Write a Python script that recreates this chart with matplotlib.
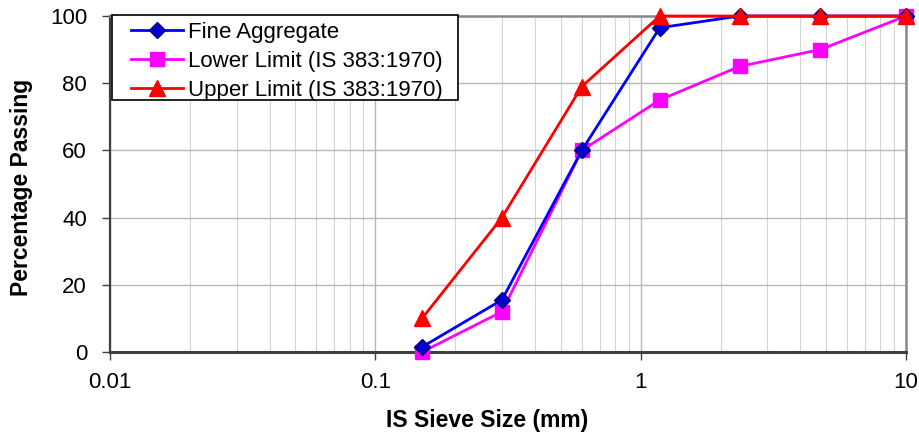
import matplotlib
matplotlib.use("Agg")
import matplotlib.pyplot as plt
from matplotlib.patches import Rectangle
from matplotlib.ticker import LogLocator, NullFormatter, FixedLocator

plt.rcParams['font.family'] = ['Liberation Sans', 'DejaVu Sans']

sieve = [0.15, 0.3, 0.6, 1.18, 2.36, 4.75, 10]
fine = [1.5, 15.5, 60, 96.5, 100, 100, 100]
lower = [0, 12, 60, 75, 85, 90, 100]
upper = [10, 40, 79, 100, 100, 100, 100]
xticks = [0.01, 0.1, 1, 10]
xticklabels = ['0.01', '0.1', '1', '10']
yticks = [0, 20, 40, 60, 80, 100]

W, H = 919, 434
fig = plt.figure(figsize=(W/100, H/100), dpi=100)
ax = fig.add_axes([110/W, 1-352/H, (906-110)/W, (352-16)/H])

ax.plot(sieve, fine, color='#0000FF', marker='D', markersize=8, markerfacecolor='#0000CC',
        markeredgecolor='#000080', lw=2, label='Fine Aggregate', zorder=4)
ax.plot(sieve, lower, color='#FF00FF', marker='s', markersize=10.5, lw=2,
        label='Lower Limit (IS 383:1970)', zorder=3)
ax.plot(sieve, upper, color='#FF0000', marker='^', markersize=11, lw=2,
        label='Upper Limit (IS 383:1970)', zorder=5)

ax.set_xscale('log')
ax.set_xlim(0.01, 10)
ax.set_ylim(0, 100)
ax.xaxis.set_major_locator(FixedLocator(xticks))
ax.set_xticklabels(xticklabels)
ax.xaxis.set_minor_locator(LogLocator(base=10, subs=range(2, 10)))
ax.xaxis.set_minor_formatter(NullFormatter())
ax.set_yticks(yticks)

ax.grid(True, which='major', axis='both', color='#B8B8B8', lw=1)
ax.grid(True, which='minor', axis='x', color='#D4D4D4', lw=0.8)
ax.set_axisbelow(True)

ax.tick_params(axis='both', which='major', labelsize=16, direction='out', length=5.5,
               width=1, color='#404040')
ax.tick_params(axis='y', pad=11)
ax.tick_params(axis='x', pad=9)
ax.tick_params(axis='x', which='minor', length=0)

for s in ['top', 'right']:
    ax.spines[s].set_color('#888888')
    ax.spines[s].set_linewidth(1.8)
ax.spines['left'].set_color('#404040')
ax.spines['left'].set_linewidth(1.6)
ax.spines['bottom'].set_color('#404040')
ax.spines['bottom'].set_linewidth(2.2)

ax.set_xlabel('IS Sieve Size (mm)', fontsize=16.5, fontweight='bold')
ax.set_ylabel('Percentage Passing', fontsize=16.5, fontweight='bold')
ax.xaxis.set_label_coords((487-110)/796, (352-420)/336)
ax.xaxis.label.set_va('center')
ax.yaxis.set_label_coords((22-110)/796, (352-187)/336)
ax.yaxis.label.set_va('center')

for line in ax.lines:
    line.set_clip_on(False)

# legend frame
frame = Rectangle((112/W, 1-100/H), 346/W, 85/H, transform=fig.transFigure,
                  facecolor='white', edgecolor='black', lw=1.2, zorder=6)
ax.add_artist(frame)
frame.set_clip_on(False)

leg = ax.legend(loc='upper left', bbox_to_anchor=(131/W, 1-22/H),
                bbox_transform=fig.transFigure, fontsize=16, frameon=False,
                borderaxespad=0, borderpad=0, handlelength=2.35,
                labelspacing=0.36, handletextpad=0.22)
leg.set_zorder(7)

fig.savefig('out.png', dpi=100)
